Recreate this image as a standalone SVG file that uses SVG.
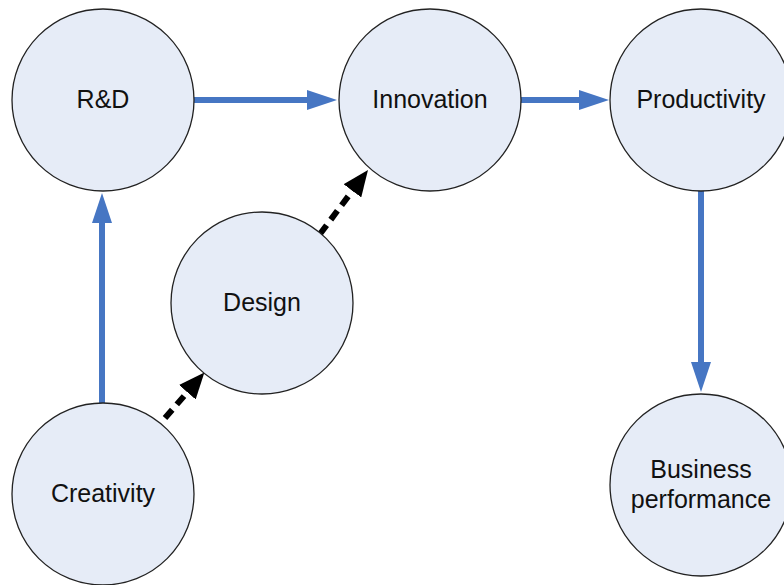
<svg xmlns="http://www.w3.org/2000/svg" width="784" height="585" viewBox="0 0 784 585">
<defs>
<marker id="blueHead" markerWidth="30" markerHeight="20" refX="1" refY="10" orient="auto" markerUnits="userSpaceOnUse">
<path d="M0,0 L30,10 L0,20 Z" fill="#4676C3"/>
</marker>
<marker id="blackHead" markerWidth="26" markerHeight="22" refX="1" refY="11" orient="auto" markerUnits="userSpaceOnUse">
<path d="M0,0 L26,11 L0,22 Z" fill="#000"/>
</marker>
<style>
.node circle{fill:#E6ECF7;stroke:#222;stroke-width:1.3}
.node text{font-family:"Liberation Sans",Arial,sans-serif;font-size:25px;fill:#111;text-anchor:middle}
.solid{stroke:#4676C3;stroke-width:6;fill:none;marker-end:url(#blueHead)}
.dashed{stroke:#000;stroke-width:6;fill:none;stroke-dasharray:11 7;marker-end:url(#blackHead)}
</style>
</defs>
<rect width="784" height="585" fill="#fff"/>
<g id="connectors">
<line class="solid" x1="194" y1="100" x2="308" y2="100"/>
<line class="solid" x1="521" y1="100" x2="580" y2="100"/>
<line class="solid" x1="701" y1="191" x2="701" y2="363"/>
<line class="solid" x1="102" y1="403" x2="102" y2="222"/>
<line class="dashed" x1="165" y1="418" x2="188" y2="391.5"/>
<line class="dashed" x1="320" y1="234" x2="353" y2="190"/>
</g>
<g id="rd" class="node"><circle cx="103" cy="100" r="91"/><text x="103" y="108">R&amp;D</text></g>
<g id="innovation" class="node"><circle cx="430" cy="100" r="91"/><text x="430" y="108">Innovation</text></g>
<g id="productivity" class="node"><circle cx="701" cy="100" r="91"/><text x="701" y="108">Productivity</text></g>
<g id="design" class="node"><circle cx="262" cy="303" r="91"/><text x="262" y="311">Design</text></g>
<g id="creativity" class="node"><circle cx="103" cy="494" r="91"/><text x="103" y="502">Creativity</text></g>
<g id="business" class="node"><circle cx="701" cy="485" r="91"/><text x="701" y="478">Business</text><text x="701" y="508">performance</text></g>
</svg>
